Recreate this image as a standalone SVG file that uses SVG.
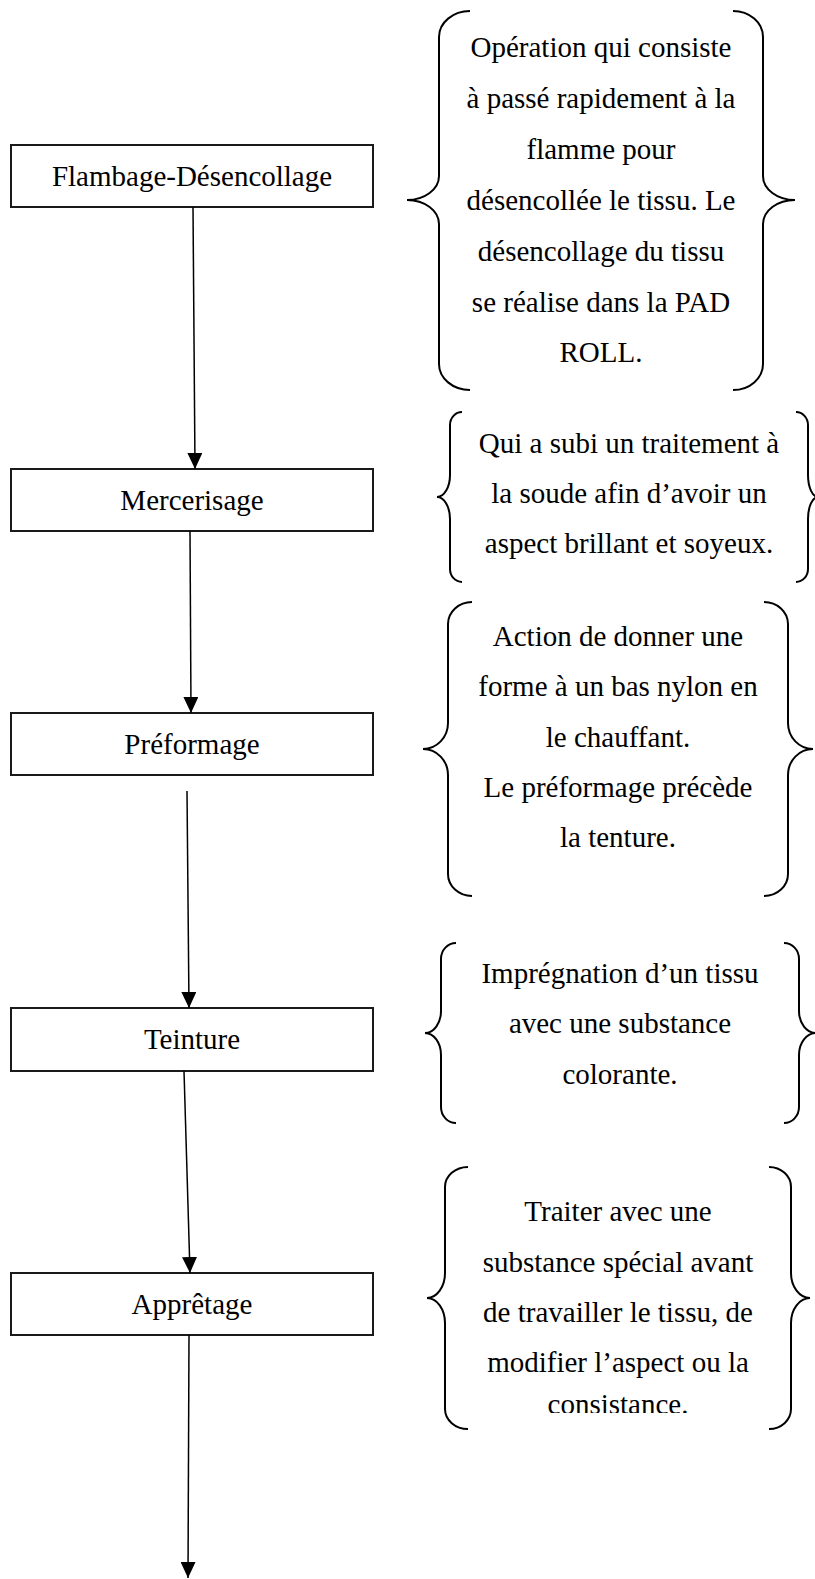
<svg xmlns="http://www.w3.org/2000/svg" width="815" height="1579" viewBox="0 0 815 1579">
  <style>
    .box { fill: #ffffff; stroke: #1a1a1a; stroke-width: 2; }
    .lbl { font-family: "Liberation Serif", "Times New Roman", serif; font-size: 29px; fill: #000; text-anchor: middle; }
    .brace { fill: none; stroke: #000; stroke-width: 2; }
    .link { stroke: #000; stroke-width: 1.5; fill: none; marker-end: url(#arrow); }
  </style>
  <defs>
    <marker id="arrow" markerUnits="userSpaceOnUse" markerWidth="16" markerHeight="15" refX="16" refY="7.5" orient="auto" viewBox="0 0 16 15">
      <path d="M0,0 L16,7.5 L0,15 z" fill="#000"/>
    </marker>
    <clipPath id="clipLast">
      <rect x="420" y="1150" width="395" height="263"/>
    </clipPath>
  </defs>
  <rect width="815" height="1579" fill="#ffffff"/>

  <!-- process steps -->
  <g id="step-flambage">
    <rect class="box" x="11" y="145" width="362" height="62"/>
    <text class="lbl" x="192" y="186">Flambage-Désencollage</text>
  </g>
  <g id="step-mercerisage">
    <rect class="box" x="11" y="469" width="362" height="62"/>
    <text class="lbl" x="192" y="510">Mercerisage</text>
  </g>
  <g id="step-preformage">
    <rect class="box" x="11" y="713" width="362" height="62"/>
    <text class="lbl" x="192" y="754">Préformage</text>
  </g>
  <g id="step-teinture">
    <rect class="box" x="11" y="1008" width="362" height="63"/>
    <text class="lbl" x="192" y="1049">Teinture</text>
  </g>
  <g id="step-appretage">
    <rect class="box" x="11" y="1273" width="362" height="62"/>
    <text class="lbl" x="192" y="1314">Apprêtage</text>
  </g>

  <!-- flow arrows -->
  <g id="connectors">
    <line class="link" x1="193" y1="207" x2="195" y2="469"/>
    <line class="link" x1="190" y1="531" x2="191" y2="713"/>
    <line class="link" x1="187" y1="791" x2="189" y2="1008"/>
    <line class="link" x1="184" y1="1071" x2="190" y2="1273"/>
    <line class="link" x1="189" y1="1335" x2="188" y2="1578"/>
  </g>

  <!-- descriptions, each wrapped in a pair of curly braces -->
  <g id="note-flambage">
    <path class="brace" d="M470,11 A31,26 0 0 0 439,37 L439,176 A32,24 0 0 1 407,200 A32,24 0 0 1 439,224 L439,364 A31,26 0 0 0 470,390"/>
    <path class="brace" d="M733,11 A30,26 0 0 1 763,37 L763,176 A32,24 0 0 0 795,200 A32,24 0 0 0 763,224 L763,364 A30,26 0 0 1 733,390"/>
    <text class="lbl" x="601" y="57">Opération qui consiste</text>
    <text class="lbl" x="601" y="108">à passé rapidement à la</text>
    <text class="lbl" x="601" y="159">flamme pour</text>
    <text class="lbl" x="601" y="210">désencollée le tissu. Le</text>
    <text class="lbl" x="601" y="261">désencollage du tissu</text>
    <text class="lbl" x="601" y="312">se réalise dans la PAD</text>
    <text class="lbl" x="601" y="362">ROLL.</text>
  </g>

  <g id="note-mercerisage">
    <path class="brace" d="M462,412 A12,13 0 0 0 450,425 L450,475 A13,22 0 0 1 437,497 A13,22 0 0 1 450,519 L450,569 A12,13 0 0 0 462,582"/>
    <path class="brace" d="M796,412 A12,13 0 0 1 808,425 L808,475 A10,22 0 0 0 818,497 A10,22 0 0 0 808,519 L808,569 A12,13 0 0 1 796,582"/>
    <text class="lbl" x="629" y="453">Qui a subi un traitement à</text>
    <text class="lbl" x="629" y="503">la soude afin d’avoir un</text>
    <text class="lbl" x="629" y="553">aspect brillant et soyeux.</text>
  </g>

  <g id="note-preformage">
    <path class="brace" d="M472,602 A24,22 0 0 0 448,624 L448,723 A25,26 0 0 1 423,749 A25,26 0 0 1 448,775 L448,874 A24,22 0 0 0 472,896"/>
    <path class="brace" d="M764,602 A24,22 0 0 1 788,624 L788,723 A25,26 0 0 0 813,749 A25,26 0 0 0 788,775 L788,874 A24,22 0 0 1 764,896"/>
    <text class="lbl" x="618" y="646">Action de donner une</text>
    <text class="lbl" x="618" y="696">forme à un bas nylon en</text>
    <text class="lbl" x="618" y="747">le chauffant.</text>
    <text class="lbl" x="618" y="797">Le préformage précède</text>
    <text class="lbl" x="618" y="847">la tenture.</text>
  </g>

  <g id="note-teinture">
    <path class="brace" d="M456,943 A15,16 0 0 0 441,959 L441,1011 A16,22 0 0 1 425,1033 A16,22 0 0 1 441,1055 L441,1107 A15,16 0 0 0 456,1123"/>
    <path class="brace" d="M784,943 A15,16 0 0 1 799,959 L799,1011 A17,22 0 0 0 816,1033 A17,22 0 0 0 799,1055 L799,1107 A15,16 0 0 1 784,1123"/>
    <text class="lbl" x="620" y="983">Imprégnation d’un tissu</text>
    <text class="lbl" x="620" y="1033">avec une substance</text>
    <text class="lbl" x="620" y="1084">colorante.</text>
  </g>

  <g id="note-appretage">
    <path class="brace" d="M468,1167 A23,20 0 0 0 445,1187 L445,1273 A18,25 0 0 1 427,1298 A18,25 0 0 1 445,1323 L445,1409 A23,20 0 0 0 468,1429"/>
    <path class="brace" d="M769,1167 A22,20 0 0 1 791,1187 L791,1273 A19,25 0 0 0 810,1298 A19,25 0 0 0 791,1323 L791,1409 A22,20 0 0 1 769,1429"/>
    <text class="lbl" x="618" y="1221">Traiter avec une</text>
    <text class="lbl" x="618" y="1272">substance spécial avant</text>
    <text class="lbl" x="618" y="1322">de travailler le tissu, de</text>
    <text class="lbl" x="618" y="1372">modifier l’aspect ou la</text>
    <text class="lbl" x="618" y="1414" clip-path="url(#clipLast)">consistance.</text>
  </g>
</svg>
